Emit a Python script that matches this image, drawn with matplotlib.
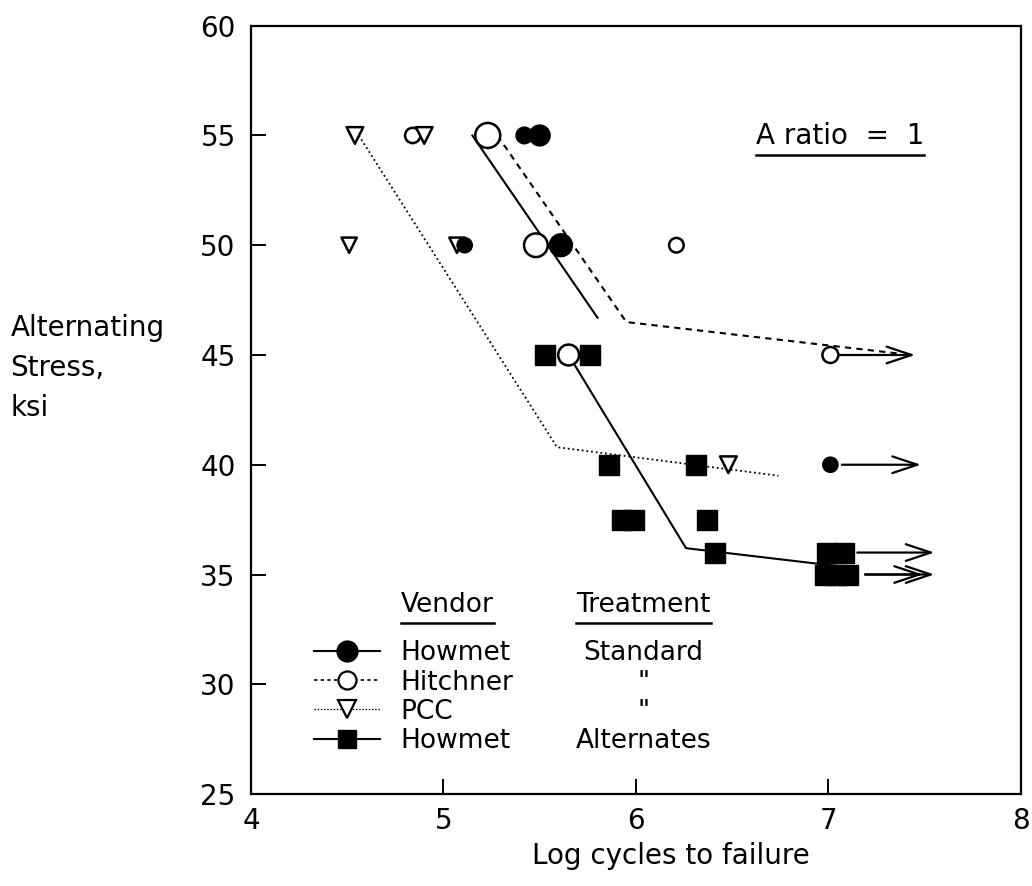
import matplotlib.pyplot as plt
from matplotlib.lines import Line2D

plt.rcParams['font.family'] = 'DejaVu Sans'
fs = 20

# Howmet, standard treatment (filled circles)
howmet_x = [5.42, 5.50, 5.11, 5.61, 7.01]
howmet_y = [55, 55, 50, 50, 40]
howmet_ms = [12, 15, 11, 16.5, 11]
howmet_fit_x = [5.15, 5.80]
howmet_fit_y = [55, 46.7]

# Hitchner, standard (open circles)
hitch_x = [5.23, 4.84, 5.48, 6.21, 5.65, 7.01]
hitch_y = [55, 55, 50, 50, 45, 45]
hitch_ms = [18, 11, 17, 10.5, 15, 11.5]
hitch_fit_x = [5.28, 5.95, 7.38]
hitch_fit_y = [55, 46.5, 45.05]

# PCC, standard (open triangles)
pcc_x = [4.54, 4.90, 4.51, 5.07, 6.48]
pcc_y = [55, 55, 50, 50, 40]
pcc_ms = [12, 12, 11, 11, 12]
pcc_fit_x = [4.56, 5.59, 6.74]
pcc_fit_y = [55, 40.8, 39.5]

# Howmet, alternate treatments (filled squares)
alt_x = [5.53, 5.76, 5.86, 6.31, 5.93, 5.99, 6.37, 6.41, 6.99, 7.08, 6.98, 7.04, 7.10]
alt_y = [45, 45, 40, 40, 37.5, 37.5, 37.5, 36, 36, 36, 35, 35, 35]
alt_ms = 14
alt_fit_x = [5.65, 6.26, 7.08]
alt_fit_y = [45, 36.2, 35.35]

# run-outs (no failure)
runout_y = [45, 40, 36, 35, 35]
runout_x0 = [7.06, 7.07, 7.15, 7.19, 7.19]
runout_x1 = [7.45, 7.48, 7.55, 7.49, 7.55]

vendors = ['Howmet', 'Hitchner', 'PCC', 'Howmet']
treatments = ['Standard', '"', '"', 'Alternates']

fig = plt.figure(figsize=(10.32, 8.86), dpi=100)
ax = fig.add_axes([0.2432, 0.1038, 0.7461, 0.8672])

lw = 1.5
ax.plot(howmet_fit_x, howmet_fit_y, color='k', lw=lw, ls='-', zorder=2)
ax.plot(hitch_fit_x, hitch_fit_y, color='k', lw=lw, ls=(0, (3, 2.5)), zorder=2)
ax.plot(pcc_fit_x, pcc_fit_y, color='k', lw=1.3, ls=(0, (1, 1.6)), zorder=2)
ax.plot(alt_fit_x, alt_fit_y, color='k', lw=lw, ls='-', zorder=2)

for y, x0, x1 in zip(runout_y, runout_x0, runout_x1):
    ax.annotate('', xy=(x1, y), xytext=(x0, y),
                arrowprops=dict(arrowstyle='->,head_length=0.9,head_width=0.3',
                                lw=1.6, color='k', mutation_scale=20,
                                shrinkA=0, shrinkB=0), zorder=2)

ax.scatter(howmet_x, howmet_y, s=[m ** 2 for m in howmet_ms], marker='o',
           c='k', edgecolors='k', zorder=4)
ax.scatter(hitch_x, hitch_y, s=[m ** 2 for m in hitch_ms], marker='o',
           facecolors='white', edgecolors='k', linewidths=1.8, zorder=3)
ax.scatter(pcc_x, pcc_y, s=[m ** 2 for m in pcc_ms], marker='v',
           facecolors='white', edgecolors='k', linewidths=1.8, zorder=3)
ax.scatter(alt_x, alt_y, s=alt_ms ** 2, marker='s', c='k', zorder=4)

ax.set_xlim(4, 8)
ax.set_ylim(25, 60)
ax.set_xticks([4, 5, 6, 7, 8])
ax.set_yticks([25, 30, 35, 40, 45, 50, 55, 60])
ax.tick_params(direction='in', length=11, width=1.4, labelsize=fs)
ax.tick_params(axis='y', pad=11)
ax.tick_params(axis='x', pad=9)
for sp in ax.spines.values():
    sp.set_linewidth(1.6)

ax.set_xlabel('Log cycles to failure', fontsize=fs)
ax.xaxis.set_label_coords(0.545, -0.062)
fig.text(0.01, 1 - 368 / 886, 'Alternating\nStress,\nksi', fontsize=fs,
         ha='left', va='center', linespacing=1.55)

# legend
handles = [
    Line2D([], [], color='k', lw=lw, marker='o', ms=15),
    Line2D([], [], color='k', lw=1.2, ls=(0, (2, 2)), marker='o', ms=13,
           mfc='white', mew=1.6),
    Line2D([], [], color='k', lw=1.0, ls=(0, (1, 1.3)), marker='v', ms=13,
           mfc='white', mew=1.6),
    Line2D([], [], color='k', lw=lw, marker='s', ms=13),
]
leg = ax.legend(handles, vendors, loc='upper left', bbox_to_anchor=(0.082, 0.2),
                frameon=False, fontsize=fs - 1, handlelength=2.5,
                handletextpad=0.75, labelspacing=0.12, borderpad=0,
                borderaxespad=0)

t_vendor = ax.text(0.255, 0.246, 'Vendor', transform=ax.transAxes, fontsize=fs - 1,
                   ha='center', va='center')
t_treat = ax.text(0.51, 0.246, 'Treatment', transform=ax.transAxes, fontsize=fs - 1,
                  ha='center', va='center')
t_ratio = ax.text(0.765, 0.856, 'A ratio  =  1', transform=ax.transAxes, fontsize=fs,
                  ha='center', va='center')

fig.canvas.draw()
renderer = fig.canvas.get_renderer()
inv = ax.transAxes.inverted()
for lt, tr in zip(leg.get_texts(), treatments):
    bb = lt.get_window_extent(renderer)
    yc = inv.transform((0, (bb.y0 + bb.y1) / 2))[1]
    ax.text(0.51, yc, tr, transform=ax.transAxes, fontsize=fs - 1,
            ha='center', va='center')

for t in [t_vendor, t_treat, t_ratio]:
    bb = t.get_window_extent(renderer)
    (x0, y0), (x1, _) = inv.transform([(bb.x0, bb.y0), (bb.x1, bb.y1)])
    ax.plot([x0, x1], [y0 - 0.006, y0 - 0.006], transform=ax.transAxes,
            color='k', lw=1.8, clip_on=False)

fig.savefig('out.png', dpi=100)
